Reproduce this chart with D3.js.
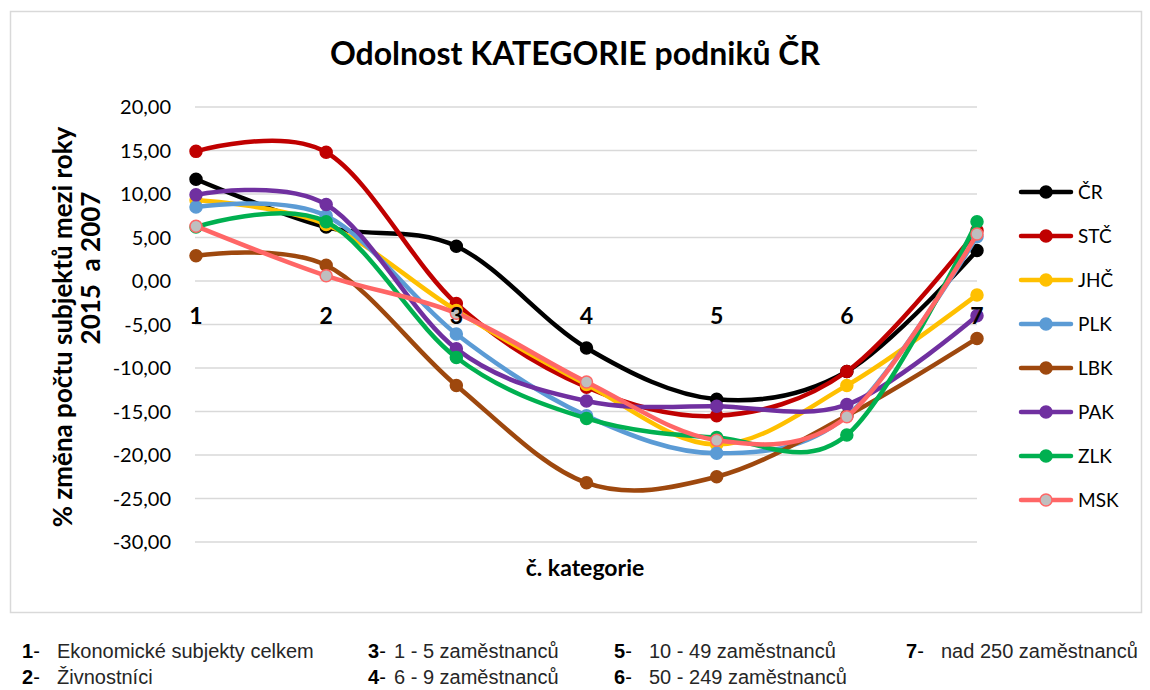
<!DOCTYPE html>
<html>
<head>
<meta charset="utf-8">
<script src="https://cdn.jsdelivr.net/npm/d3@7"></script>
<style>
  body { margin: 0; background: #fff; }
  svg { display: block; }
</style>
</head>
<body>
<svg id="chart" width="1150" height="690"></svg>
<script>
// data
var categories = [1, 2, 3, 4, 5, 6, 7]
var seriesNames = ["ČR", "STČ", "JHČ", "PLK", "LBK", "PAK", "ZLK", "MSK"]
var CR  = [11.7, 6.2, 4.0, -7.7, -13.6, -10.4, 3.5]
var STC = [14.9, 14.8, -2.6, -12.2, -15.5, -10.4, 5.8]
var JHC = [9.3, 6.5, -3.4, -11.9, -18.8, -12.0, -1.6]
var PLK = [8.5, 7.5, -6.1, -15.5, -19.8, -15.5, 5.1]
var LBK = [2.9, 1.8, -12.0, -23.2, -22.5, -15.5, -6.6]
var PAK = [9.9, 8.8, -7.8, -13.8, -14.4, -14.2, -4.0]
var ZLK = [6.2, 6.8, -8.8, -15.8, -18.0, -17.7, 6.8]
var MSK = [6.3, 0.6, -3.7, -11.6, -18.3, -15.6, 5.4]
var yTicks = [20, 15, 10, 5, 0, -5, -10, -15, -20, -25, -30]
var notes = [
  ["1", "Ekonomické subjekty celkem"],
  ["2", "Živnostníci"],
  ["3", "1 - 5 zaměstnanců"],
  ["4", "6 - 9 zaměstnanců"],
  ["5", "10 - 49 zaměstnanců"],
  ["6", "50 - 249 zaměstnanců"],
  ["7", "nad 250 zaměstnanců"]
]

var values = [CR, STC, JHC, PLK, LBK, PAK, ZLK, MSK]
var colors = ["#000000", "#c00000", "#ffc000", "#5b9bd5", "#9e480e", "#7030a0", "#00b050", "#ff6666"]
var fills  = ["#000000", "#c00000", "#ffc000", "#5b9bd5", "#9e480e", "#7030a0", "#00b050", "#bfbfbf"]

const svg = d3.select('#chart')
const calibri = "Lato, 'Open Sans', sans-serif"

// chart frame
svg.append("rect").attr("x", 10.5).attr("y", 11.5).attr("width", 1131).attr("height", 601)
  .attr("fill", "#fff").attr("stroke", "#d9d9d9").attr("stroke-width", 1.5)

const x = d3.scalePoint().domain(categories).range([196, 977])
const y = d3.scaleLinear().domain([-30, 20]).range([542, 107])

// gridlines
svg.append("g").selectAll("line").data(yTicks).join("line")
  .attr("x1", 195).attr("x2", 977)
  .attr("y1", d => y(d)).attr("y2", d => y(d))
  .attr("stroke", "#d9d9d9").attr("stroke-width", 1.6)

// y axis labels
svg.append("g").selectAll("text").data(yTicks).join("text")
  .attr("x", 171).attr("y", d => y(d)).attr("dy", "0.35em")
  .attr("text-anchor", "end")
  .style("font", "20px " + calibri).attr("fill", "#000")
  .text(d => d3.format(".2f")(d).replace(".", ",").replace("−", "-"))

// title
svg.append("text").attr("x", 575).attr("y", 65).attr("text-anchor", "middle")
  .style("font", "bold 32px " + calibri).text("Odolnost KATEGORIE podniků ČR")

// axis titles
svg.append("text").attr("transform", "translate(72,327) rotate(-90)")
  .attr("text-anchor", "middle").style("font", "bold 26px " + calibri)
  .text("% změna počtu subjektů mezi roky")
svg.append("text").attr("transform", "translate(100,268) rotate(-90)")
  .attr("text-anchor", "middle").style("font", "bold 26px " + calibri)
  .style("white-space", "pre")
  .text("2015  a 2007")
svg.append("text").attr("x", 585).attr("y", 576).attr("text-anchor", "middle")
  .style("font", "bold 23px " + calibri).text("č. kategorie")

// lines
const line = d3.line()
  .x((d, i) => x(categories[i]))
  .y(d => y(d))
  .curve(d3.curveCardinal.tension(0))

const series = svg.append("g").selectAll("g").data(values).join("g")
series.append("path")
  .attr("d", d => line(d))
  .attr("fill", "none")
  .attr("stroke", (d, i) => colors[i])
  .attr("stroke-width", 4.5)
  .attr("stroke-linecap", "round")
series.each(function (d, i) {
  d3.select(this).selectAll("circle").data(d).join("circle")
    .attr("cx", (v, j) => x(categories[j]))
    .attr("cy", v => y(v))
    .attr("r", 6)
    .attr("fill", fills[i])
    .attr("stroke", colors[i])
    .attr("stroke-width", 1.5)
})

// category labels sit under the zero line, on top of the lines
svg.append("g").selectAll("text").data(categories).join("text")
  .attr("x", d => x(d)).attr("y", y(0) + 43)
  .attr("text-anchor", "middle")
  .style("font", "bold 23px " + calibri).attr("fill", "#000")
  .text(d => d)

// legend on the right
const legend = svg.append("g").selectAll("g").data(seriesNames).join("g")
  .attr("transform", (d, i) => `translate(0, ${192 + i * 44})`)
legend.append("line").attr("x1", 1021).attr("x2", 1071)
  .attr("stroke", (d, i) => colors[i]).attr("stroke-width", 4.5).attr("stroke-linecap", "round")
legend.append("circle").attr("cx", 1046).attr("r", 6)
  .attr("fill", (d, i) => fills[i]).attr("stroke", (d, i) => colors[i]).attr("stroke-width", 1.5)
legend.append("text").attr("x", 1078).attr("dy", "0.36em")
  .style("font", "19px " + calibri).text(d => d)

// notes under the chart
const noteX = [[22, 57], [22, 57], [368, 394], [368, 394], [614, 649], [614, 649], [906, 941]]
const noteY = [658, 684]
const note = svg.append("g").selectAll("g").data(notes).join("g")
note.append("text")
  .attr("x", (d, i) => noteX[i][0]).attr("y", (d, i) => noteY[i % 2])
  .style("font", "20px 'Liberation Sans', Arial, sans-serif").attr("fill", "#000")
  .call(t => {
    t.append("tspan").style("font-weight", "bold").text(d => d[0])
    t.append("tspan").text("- ")
  })
note.append("text")
  .attr("x", (d, i) => noteX[i][1]).attr("y", (d, i) => noteY[i % 2])
  .style("font", "20px 'Liberation Sans', Arial, sans-serif").attr("fill", "#262626")
  .text(d => d[1])
</script>
</body>
</html>
